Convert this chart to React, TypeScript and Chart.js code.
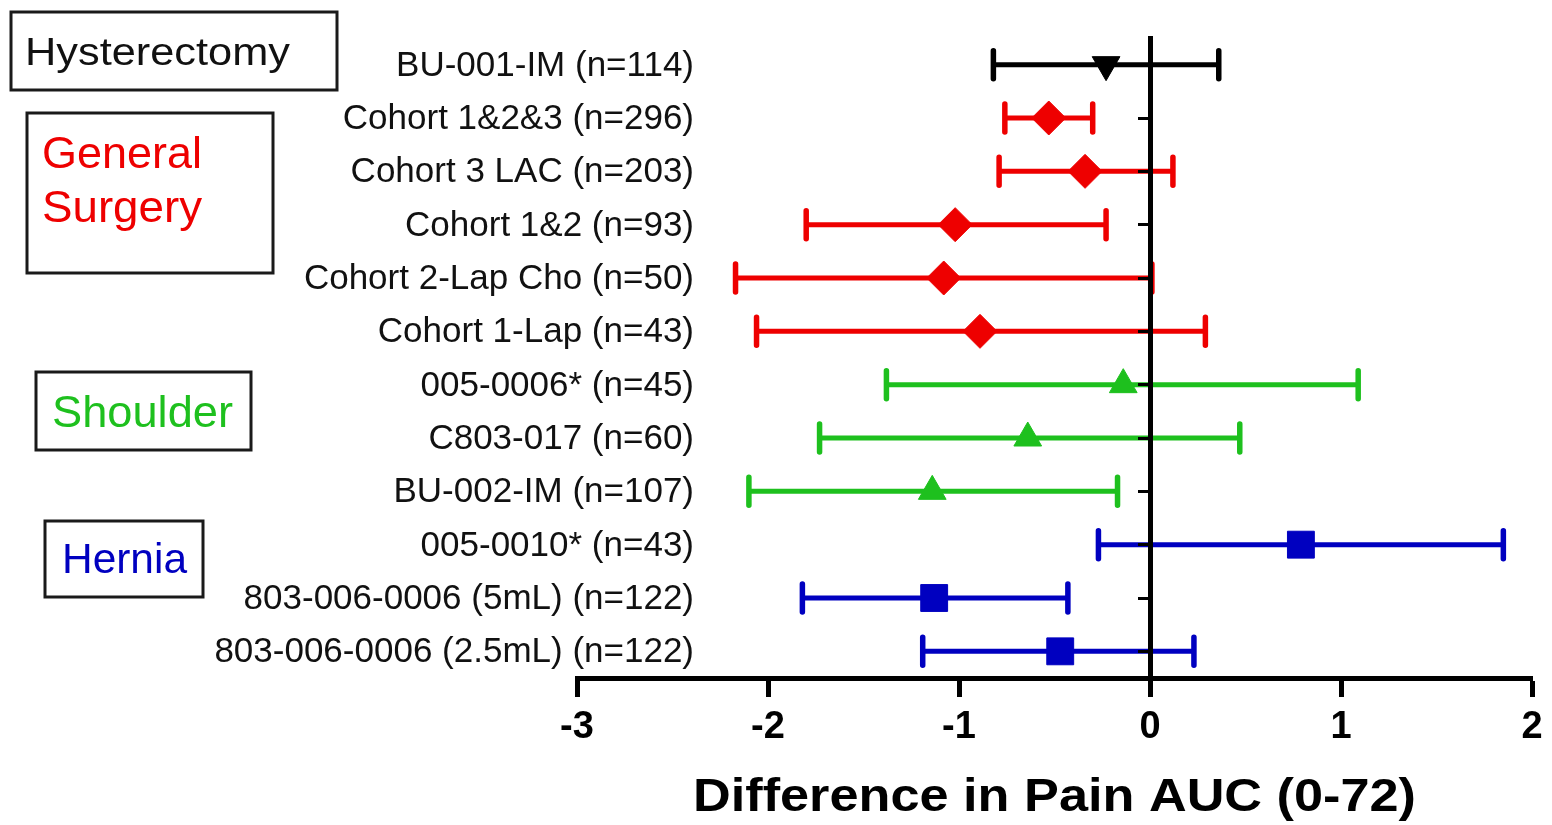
import { useEffect, useRef } from "react";
import { Chart, registerables } from "chart.js";

Chart.register(...registerables);

// Study rows, top to bottom
const studies = [
  "BU-001-IM (n=114)",
  "Cohort 1&2&3 (n=296)",
  "Cohort 3 LAC (n=203)",
  "Cohort 1&2 (n=93)",
  "Cohort 2-Lap Cho (n=50)",
  "Cohort 1-Lap (n=43)",
  "005-0006* (n=45)",
  "C803-017 (n=60)",
  "BU-002-IM (n=107)",
  "005-0010* (n=43)",
  "803-006-0006 (5mL) (n=122)",
  "803-006-0006 (2.5mL) (n=122)",
];

// Point estimate and confidence interval per study
const effect = [-0.23, -0.53, -0.34, -1.02, -1.08, -0.89, -0.14, -0.64, -1.14, 0.79, -1.13, -0.47];
const ciLow = [-0.82, -0.76, -0.79, -1.8, -2.17, -2.06, -1.38, -1.73, -2.1, -0.27, -1.82, -1.19];
const ciHigh = [0.36, -0.3, 0.12, -0.23, 0.01, 0.29, 1.09, 0.47, -0.17, 1.85, -0.43, 0.23];

// Surgical group index for each study row
const studyGroup = [0, 1, 1, 1, 1, 1, 2, 2, 2, 3, 3, 3];

const groups = ["Hysterectomy", "General Surgery", "Shoulder", "Hernia"];
const groupColors = ["#000000", "#ee0000", "#1ec01e", "#0000c0"];
const groupMarkers = ["triangle", "rectRot", "triangle", "rect"];
const groupMarkerRotation = [180, 0, 0, 0];
const groupMarkerRadius = [16, 17, 16, 19];

const xTicks = [-3, -2, -1, 0, 1, 2];
const xTitle = "Difference in Pain AUC (0-72)";

const FONT = "'Liberation Sans', Arial, sans-serif";

function drawText(
  ctx: CanvasRenderingContext2D,
  text: string,
  x: number,
  baseline: number,
  font: string,
  color: string,
  align: CanvasTextAlign,
  targetWidth?: number
) {
  ctx.save();
  ctx.font = font;
  ctx.fillStyle = color;
  ctx.textAlign = align;
  ctx.textBaseline = "alphabetic";
  const w = ctx.measureText(text).width;
  const sx = targetWidth ? targetWidth / w : 1;
  ctx.translate(x, baseline);
  ctx.scale(sx, 1);
  ctx.fillText(text, 0, 0);
  ctx.restore();
}

// Horizontal confidence-interval whiskers with end caps
const whiskerPlugin = {
  id: "whiskers",
  beforeDraw(chart: any) {
    const { ctx } = chart;
    const xs = chart.scales.x;
    const ys = chart.scales.y;
    ctx.save();
    studies.forEach((_, i) => {
      const y = ys.getPixelForValue(i + 1);
      const x1 = xs.getPixelForValue(ciLow[i]);
      const x2 = xs.getPixelForValue(ciHigh[i]);
      const color = groupColors[studyGroup[i]];
      ctx.strokeStyle = color;
      ctx.lineCap = "butt";
      ctx.lineWidth = 5;
      ctx.beginPath();
      ctx.moveTo(x1, y);
      ctx.lineTo(x2, y);
      ctx.stroke();
      ctx.lineCap = "round";
      ctx.lineWidth = 5.5;
      ctx.beginPath();
      ctx.moveTo(x1, y - 14);
      ctx.lineTo(x1, y + 14);
      ctx.moveTo(x2, y - 14);
      ctx.lineTo(x2, y + 14);
      ctx.stroke();
    });
    ctx.restore();
  },
};

// Study names, group boxes and the axis title
const annotationPlugin = {
  id: "annotations",
  afterDraw(chart: any) {
    const { ctx, chartArea } = chart;
    const ys = chart.scales.y;
    const labelRight = chartArea.left + 117;
    studies.forEach((name, i) => {
      const y = ys.getPixelForValue(i + 1);
      drawText(ctx, name, labelRight, y + 11, `35px ${FONT}`, "#111111", "right");
    });

    ctx.save();
    ctx.strokeStyle = "#1a1a1a";
    ctx.lineWidth = 3;
    ctx.strokeRect(11, 12, 326, 78);
    ctx.strokeRect(27, 113, 246, 160);
    ctx.strokeRect(36, 372, 215, 78);
    ctx.strokeRect(45, 521, 158, 76);
    ctx.restore();

    drawText(ctx, groups[0], 25, 65, `38px ${FONT}`, "#111111", "left", 265);
    drawText(ctx, "General", 42, 168, `45px ${FONT}`, groupColors[1], "left", 160);
    drawText(ctx, "Surgery", 42, 222, `45px ${FONT}`, groupColors[1], "left", 160);
    drawText(ctx, groups[2], 52, 427, `45px ${FONT}`, groupColors[2], "left", 181);
    drawText(ctx, groups[3], 62, 573, `43px ${FONT}`, groupColors[3], "left", 125);

    const cx = (chartArea.left + chartArea.right) / 2;
    drawText(ctx, xTitle, cx, 811, `bold 46px ${FONT}`, "#000000", "center", 723);
  },
};

export default function App() {
  const canvasRef = useRef<HTMLCanvasElement | null>(null);

  useEffect(() => {
    const canvas = canvasRef.current;
    if (!canvas) return;

    const datasets = groups.map((g, gi) => ({
      label: g,
      data: studies
        .map((_, i) => ({ x: effect[i], y: i + 1, g: studyGroup[i] }))
        .filter((p) => p.g === gi)
        .map((p) => ({ x: p.x, y: p.y })),
      pointStyle: groupMarkers[gi] as any,
      rotation: groupMarkerRotation[gi],
      radius: groupMarkerRadius[gi],
      backgroundColor: groupColors[gi],
      borderColor: groupColors[gi],
      borderWidth: 1,
    }));

    const chart = new Chart(canvas, {
      type: "scatter",
      data: { datasets },
      options: {
        animation: false,
        responsive: false,
        events: [],
        layout: { padding: { top: 38, left: 577, right: 15, bottom: 0 } },
        plugins: {
          legend: { display: false },
          tooltip: { enabled: false },
        },
        scales: {
          x: {
            type: "linear",
            position: "bottom",
            min: -3,
            max: 2,
            afterBuildTicks: (s: any) => {
              s.ticks = xTicks.map((v) => ({ value: v }));
            },
            afterFit: (s: any) => {
              s.height = 147;
              s.paddingLeft = 0;
              s.paddingRight = 0;
            },
            ticks: {
              color: "#000000",
              padding: 8,
              font: { family: FONT, size: 38, weight: "bold" },
            },
            grid: {
              drawOnChartArea: false,
              drawTicks: true,
              tickLength: 19,
              tickWidth: 5,
              tickColor: "#000000",
            },
            border: { display: true, width: 5, color: "#000000" },
          },
          y: {
            type: "linear",
            position: { x: 0 } as any,
            min: 0.5,
            max: 12.5,
            reverse: true,
            afterBuildTicks: (s: any) => {
              s.ticks = studies.map((_, i) => ({ value: i + 1 }));
            },
            afterFit: (s: any) => {
              // the zero line sits inside the plot, so it takes no layout room
              s.width = 0;
              s.paddingTop = 0;
              s.paddingBottom = 0;
            },
            ticks: { display: false },
            grid: {
              drawOnChartArea: false,
              drawTicks: true,
              tickLength: 10,
              tickWidth: 3,
              tickColor: "#000000",
            },
            border: { display: true, width: 5, color: "#000000" },
          },
        },
      },
      plugins: [whiskerPlugin, annotationPlugin],
    });

    return () => chart.destroy();
  }, []);

  return (
    <div style={{ position: "fixed", left: 0, top: 0, width: 1552, height: 825, background: "#ffffff" }}>
      <canvas ref={canvasRef} width={1552} height={825} style={{ display: "block" }} />
    </div>
  );
}
